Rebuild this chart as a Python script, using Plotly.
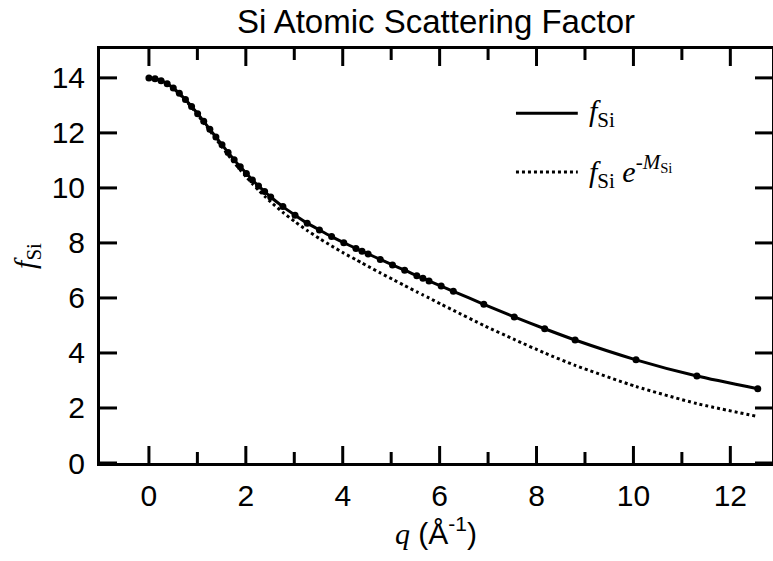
import plotly.graph_objects as go

# scattering vector q (1/Angstrom)
q = [0.000, 0.126, 0.251, 0.377, 0.503, 0.628, 0.754, 0.880, 1.005, 1.131,
     1.257, 1.382, 1.508, 1.634, 1.759, 1.885, 2.011, 2.136, 2.262, 2.388,
     2.513, 2.765, 3.016, 3.267, 3.519, 3.770, 4.021, 4.273, 4.398, 4.524,
     4.775, 5.027, 5.278, 5.529, 5.655, 5.781, 6.032, 6.283, 6.912, 7.540,
     8.168, 8.796, 10.053, 11.310, 12.566]

# f_Si
f_si = [14.00, 13.97, 13.90, 13.79, 13.63, 13.44, 13.21, 12.96, 12.70, 12.42,
        12.13, 11.85, 11.57, 11.29, 11.02, 10.77, 10.52, 10.29, 10.07, 9.87,
        9.67, 9.32, 9.01, 8.72, 8.47, 8.23, 8.01, 7.80, 7.70, 7.60,
        7.40, 7.20, 7.01, 6.81, 6.72, 6.62, 6.43, 6.24, 5.77, 5.31,
        4.88, 4.47, 3.75, 3.16, 2.70]

# f_Si * exp(-M_Si)
f_si_dw = [14.00, 13.97, 13.90, 13.78, 13.62, 13.42, 13.19, 12.93, 12.66, 12.37,
           12.08, 11.78, 11.49, 11.20, 10.92, 10.65, 10.40, 10.15, 9.92, 9.70,
           9.49, 9.11, 8.77, 8.45, 8.16, 7.89, 7.63, 7.39, 7.27, 7.15,
           6.91, 6.68, 6.45, 6.22, 6.11, 6.00, 5.77, 5.55, 5.00, 4.49,
           4.00, 3.55, 2.78, 2.16, 1.69]

x_ticks = [0, 2, 4, 6, 8, 10, 12]
x_minor_ticks = [1, 3, 5, 7, 9, 11]
y_ticks = [0, 2, 4, 6, 8, 10, 12, 14]

X_RANGE = [-1.01, 12.86]
Y_RANGE = [0, 15.05]

SANS = "Liberation Sans, Arial, Helvetica, sans-serif"
SERIF = "Liberation Serif, Times New Roman, serif"

W, H = 773, 561
M_L, M_R, M_T, M_B = 100, 1, 49, 98
PLOT_W = W - M_L - M_R
PLOT_H = H - M_T - M_B
MAJOR_LEN = 17  # px
MINOR_LEN = 11  # px

fig = go.Figure()
fig.add_trace(go.Scatter(
    x=q, y=f_si_dw, mode="lines",
    line=dict(color="black", width=3, dash="3px,3px", shape="spline", smoothing=0.6),
    showlegend=False, hoverinfo="skip"))
fig.add_trace(go.Scatter(
    x=q, y=f_si, mode="lines+markers",
    line=dict(color="black", width=3, shape="spline", smoothing=0.6),
    marker=dict(color="black", size=7), showlegend=False))

fig.update_layout(
    template="none",
    width=W, height=H,
    margin=dict(l=M_L, r=M_R, t=M_T, b=M_B, autoexpand=False),
    paper_bgcolor="white", plot_bgcolor="white",
    title=dict(text="Si Atomic Scattering Factor", x=0.5, xref="paper", xanchor="center",
               y=0.962, yref="container", yanchor="middle",
               font=dict(family=SANS, size=33, color="black")),
    showlegend=False,
    xaxis=dict(
        range=X_RANGE, tickmode="array", tickvals=x_ticks, ticktext=[str(v) for v in x_ticks],
        showline=True, linecolor="black", linewidth=3, mirror=True,
        ticks="", showgrid=False, zeroline=False, ticklabelstandoff=4,
        tickfont=dict(family=SANS, size=30, color="black"),
        title=dict(text="<span style=\"font-family:Liberation Serif,Times New Roman,serif\"><i>q</i></span> (Å<sup>-1</sup>)",
                   font=dict(family=SANS, size=30, color="black"), standoff=12),
    ),
    yaxis=dict(
        range=Y_RANGE, tickmode="array", tickvals=y_ticks, ticktext=[str(v) for v in y_ticks],
        showline=True, linecolor="black", linewidth=3, mirror=True,
        ticks="", showgrid=False, zeroline=False, ticklabelstandoff=6,
        tickfont=dict(family=SANS, size=30, color="black"),
        title=dict(text="<i>f</i><sub>Si</sub>", font=dict(family=SERIF, size=30, color="black"), standoff=8),
    ),
)

# inward tick marks on all four sides (positioned by the axis scales)
tick_line = dict(color="black", width=3)
for v in x_ticks + x_minor_ticks:
    ln = (MAJOR_LEN if v in x_ticks else MINOR_LEN) / PLOT_H
    fig.add_shape(type="line", xref="x", yref="paper", x0=v, x1=v, y0=0, y1=ln, line=tick_line)
    fig.add_shape(type="line", xref="x", yref="paper", x0=v, x1=v, y0=1, y1=1 - ln, line=tick_line)
for v in y_ticks:
    ln = MAJOR_LEN / PLOT_W
    fig.add_shape(type="line", xref="paper", yref="y", x0=0, x1=ln, y0=v, y1=v, line=tick_line)
    fig.add_shape(type="line", xref="paper", yref="y", x0=1, x1=1 - ln, y0=v, y1=v, line=tick_line)

# legend drawn manually in paper coordinates
fig.add_shape(type="line", xref="paper", yref="paper", x0=0.619, x1=0.711, y0=0.845, y1=0.845,
              line=dict(color="black", width=3))
fig.add_shape(type="line", xref="paper", yref="paper", x0=0.619, x1=0.711, y0=0.703, y1=0.703,
              line=dict(color="black", width=3, dash="3px,3px"))
fig.add_annotation(xref="paper", yref="paper", x=0.725, y=0.845, xanchor="left", yanchor="middle",
                   text="<i>f</i><sub>Si</sub>", showarrow=False,
                   font=dict(family=SERIF, size=30, color="black"))
fig.add_annotation(xref="paper", yref="paper", x=0.725, y=0.703, xanchor="left", yanchor="middle",
                   text="<i>f</i><sub>Si</sub> <i>e</i><sup>-<i>M</i><sub>Si</sub></sup>", showarrow=False,
                   font=dict(family=SERIF, size=30, color="black"))

fig.write_html("out.html")
